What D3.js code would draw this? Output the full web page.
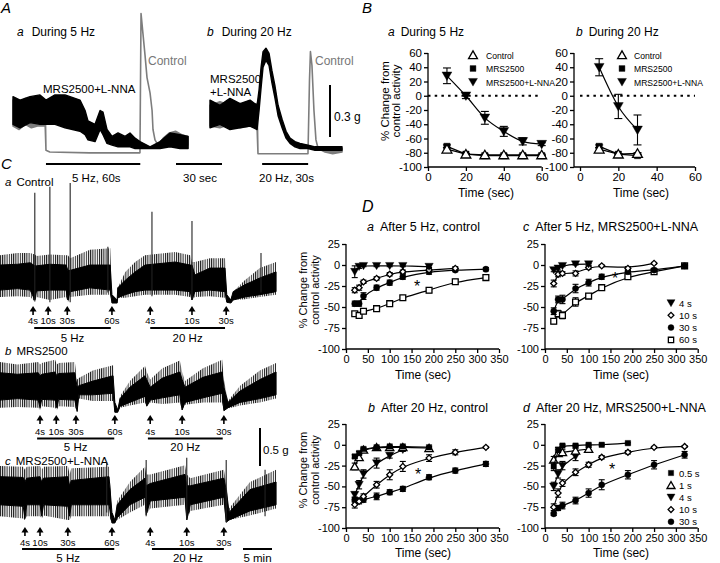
<!doctype html>
<html lang="en">
<head>
<meta charset="utf-8">
<title>P2Y1 / NO recordings</title>
<script src="https://cdn.jsdelivr.net/npm/d3@7"></script>
<style>
  body { margin: 0; background: #fff; }
  text { font-family: "Liberation Sans", Arial, sans-serif; }
</style>
</head>
<body>
<script>
// ---------- A: traces during stimulation, [time s, tension lo g, tension hi g] ----------
var aCtl5 = [[0,0.15,0.30],[4,0.13,0.28],[8,0.16,0.31],[12,0.14,0.28],[16,0.15,0.30],[21,0.15,0.29],[21.5,0.01,0.01],[24,0,0],[50,-0.005,-0.005],[82.8,-0.005,-0.005],
  [83.5,0.8,0.8],[84.8,0.68,0.68],[86.1,0.56,0.56],[87.4,0.43,0.43],[89.4,0.34,0.34],[90.7,0.24,0.24],[91.3,0.13,0.13],[92.6,0.07,0.07],[94.6,0.04,0.04],
  [98,0.03,0.08],[102,0.05,0.11],[106,0.04,0.12],[110,0.03,0.10],[114,0.04,0.09]];
var aNna5 = [[0,0.16,0.32],[4.6,0.14,0.30],[11.1,0.17,0.32],[17.6,0.16,0.33],[21.5,0.16,0.30],[27.4,0.16,0.33],[33.9,0.14,0.33],[43.7,0.12,0.30],[47,0.10,0.24],
  [48.9,0.07,0.18],[53.5,0.06,0.16],[56.8,0.13,0.24],[58.7,0.10,0.23],[61.3,0.05,0.13],[64.6,0.04,0.09],[68.5,0.03,0.11],[73.1,0.03,0.09],[76.3,0.03,0.11],
  [79.6,0.02,0.08],[82.8,0.02,0.06],[89.4,0.02,0.03],[95.9,0.02,0.06],[102.4,0.03,0.11],[108.9,0.02,0.10],[114.2,0.02,0.09]];
var aCtl20 = [[0,0.15,0.27],[6.5,0.14,0.29],[13,0.16,0.27],[19.6,0.14,0.28],[26.1,0.15,0.27],[30.7,0.14,0.28],[31.3,-0.01,-0.01],[63.9,-0.01,-0.01],
  [64.9,0.42,0.42],[65.5,0.58,0.58],[66.5,0.5,0.5],[67.8,0.24,0.24],[69.1,0.07,0.07],[70.5,0.02,0.02],[75,0,0.02],[80,-0.01,0.02],[86.1,0,0.02]];
var aNna20 = [[0,0.14,0.30],[6.5,0.16,0.27],[13,0.13,0.31],[19.6,0.14,0.28],[26.1,0.15,0.30],[30.7,0.13,0.27],[32.0,0.24,0.36],[33.3,0.37,0.49],[34.6,0.49,0.58],
  [36.5,0.53,0.60],[38.5,0.50,0.57],[40.4,0.40,0.47],[42.4,0.31,0.38],[44.4,0.21,0.27],[47,0.14,0.19],[49.6,0.08,0.12],[52.2,0.05,0.08],[55.4,0.03,0.06],
  [58.7,0.02,0.05],[63.9,0.02,0.04],[68.5,0.01,0.03],[75,0.01,0.03],[81.6,0.01,0.03],[86.1,0.01,0.03]];
var aStim5 = [21.5, 83], aStim20 = [34, 64];

// ---------- B: % change during stimulation, [mean, sem] ----------
var bTime5 = [10, 20, 30, 40, 50, 60];
var bCtl5 = [[-75,2],[-82,1],[-83,1],[-83,1],[-83,1],[-83,1]];
var bMrs5 = [[-71,2],[-82,1],[-84,1],[-84,1],[-84,1],[-84,1]];
var bNna5 = [[28,11],[0,4],[-31,9],[-50,7],[-64,5],[-68,2]];
var bTime20 = [10, 20, 30];
var bCtl20 = [[-75,2],[-82,1],[-81,1]];
var bMrs20 = [[-71,2],[-82,1],[-84,1]];
var bNna20 = [[40,12],[-15,17],[-48,21]];
var bLegend = ["Control", "MRS2500", "MRS2500+L-NNA"];

// ---------- C: long recordings, [time min, core lo, core hi, outer lo, outer hi] (g) ----------
var cTrA = [[0,0.13,0.46,0.04,0.59],[3,0.15,0.47,0.05,0.62],[5.2,0.13,0.49,0.04,0.62],[6.0,0.0,0.45,-0.02,0.6],[6.3,0.12,0.45,0.04,0.58],[8.6,0.13,0.47,0.0,0.6],
  [11.4,0.13,0.46,0.04,0.59],[11.7,0.0,0.39,-0.03,0.59],[12.1,0.11,0.39,0.04,0.55],[15.5,0.16,0.46,0.07,0.66],[19.0,0.13,0.46,0.07,0.68],[19.3,-0.04,0.07,-0.04,0.07],
  [20.2,-0.04,0.0,-0.04,0.0],[20.3,0.03,0.16,0.03,0.16],[21.6,0.07,0.26,0.03,0.37],[23.3,0.11,0.37,0.05,0.50],[25.0,0.13,0.46,0.07,0.59],[30.2,0.13,0.50,0.07,0.63],
  [32.8,0.11,0.46,0.04,0.59],[33.1,0.0,0.46,0.0,0.5],[33.6,0.11,0.33,0.04,0.50],[36.2,0.13,0.42,0.05,0.55],[38.8,0.11,0.42,0.03,0.55],[39.1,-0.03,0.07,-0.03,0.07],
  [39.8,-0.04,0.0,-0.04,0.0],[40.2,0.0,0.11,0.0,0.11],[42.2,0.04,0.20,0.01,0.26],[44.8,0.07,0.29,0.04,0.42],[47.6,0.11,0.37,0.07,0.50]];
var cSpkA = [[6.0,-0.02,1.41],[8.6,-0.03,1.49],[12.1,-0.03,1.54],[18.6,0.1,0.70],[26.2,0.05,1.16],[33.1,0.0,1.04],[45.0,0.1,0.62]];
var cTrB = [[0,0.13,0.49,0.03,0.63],[3,0.15,0.47,0.04,0.6],[6.6,0.13,0.49,0.03,0.63],[6.9,0.03,0.45,0.0,0.6],[7.2,0.14,0.47,0.05,0.62],[9.5,0.13,0.5,0.03,0.66],
  [9.8,0.03,0.45,0.0,0.6],[10.1,0.14,0.48,0.05,0.62],[12.9,0.13,0.49,0.04,0.63],[13.3,-0.02,0.3,-0.02,0.4],[13.6,0.2,0.32,0.15,0.42],[16,0.2,0.38,0.12,0.52],
  [19.5,0.22,0.45,0.12,0.59],[19.8,-0.03,0.1,-0.03,0.1],[20.3,-0.03,0.0,-0.03,0.0],[20.7,0.05,0.15,0.03,0.18],[22.4,0.1,0.3,0.06,0.38],[25,0.18,0.45,0.1,0.58],
  [25.3,0.05,0.4,0.05,0.5],[25.9,0.13,0.3,0.1,0.4],[28,0.16,0.42,0.08,0.55],[31,0.2,0.5,0.1,0.65],[31.4,0.0,0.4,0.0,0.5],[31.9,0.1,0.3,0.07,0.38],
  [35,0.16,0.43,0.1,0.55],[38.3,0.22,0.5,0.1,0.66],[38.6,-0.01,0.3,-0.01,0.4],[39.3,0.03,0.1,0.02,0.12],[41.4,0.1,0.25,0.06,0.32],[44.8,0.15,0.4,0.1,0.52],
  [47.6,0.2,0.5,0.15,0.62]];
var cSpkB = [];
var cTrC = [[0,0.2,0.57,0.05,0.71],[4,0.18,0.56,0.02,0.7],[4.3,0.02,0.5,0.0,0.66],[4.6,0.2,0.55,0.05,0.7],[6.9,0.2,0.57,0.05,0.71],[7.2,0.05,0.5,0.02,0.66],
  [7.5,0.2,0.55,0.06,0.7],[11.7,0.18,0.57,0.0,0.71],[12,0.05,0.45,0.0,0.6],[12.3,0.2,0.52,0.05,0.68],[18.8,0.2,0.57,0.05,0.7],[19.3,-0.04,0.1,-0.04,0.1],
  [19.8,-0.04,0.0,-0.04,0.0],[20.2,0.03,0.2,0.0,0.25],[22.4,0.2,0.4,0.1,0.5],[25,0.3,0.55,0.2,0.7],[25.2,0.07,0.45,0.07,0.6],[25.9,0.25,0.48,0.15,0.6],
  [31.9,0.3,0.6,0.2,0.72],[32.2,0.0,0.45,0.0,0.6],[32.8,0.2,0.45,0.12,0.55],[38.6,0.3,0.55,0.2,0.66],[39,-0.03,0.4,-0.03,0.5],[39.5,0.0,0.1,0.0,0.15],
  [43.1,0.12,0.4,0.06,0.5],[47.6,0.2,0.5,0.15,0.66]];
var cSpkC = [[18.4,0.1,0.76],[25.2,0.05,0.79],[32.2,0.0,0.82],[39.0,-0.03,0.79],[45.7,0.05,0.66]];
var cStimLab = ["4s", "10s", "30s", "60s", "4s", "10s", "30s"];
var cStimA = [5.7, 8.3, 11.6, 19.3, 25.9, 33.1, 39.0];
var cStimB = [6.9, 9.7, 13.1, 19.8, 25.9, 31.4, 38.6];
var cStimC = [4.3, 6.9, 11.7, 19.3, 25.9, 32.2, 38.6];
var cBarsA = [[5.9, 19.1], [25.9, 38.8]];
var cBarsB = [[6.4, 19.7], [25.5, 38.4]];
var cBarsC = [[3.8, 19.7], [26.2, 38.6]];
var cBarLab = ["5 Hz", "20 Hz"];

// ---------- D: recovery after stimulation, [mean, sem] ----------
var dTime = [20, 30, 40, 70, 100, 130, 190, 250, 320];
var da4  = [[-8,7],[-2,2],[-1,1],[-1,1],[-1,1],[-1,1],[-2,1]];
var da10 = [[-30,3],[-27,3],[-20,2],[-16,2],[-11,2],[-8,2],[-6,2],[-4,2]];
var da30 = [[-46,3],[-46,3],[-37,4],[-27,3],[-21,3],[-14,3],[-8,3],[-6,2],[-5,2]];
var da60 = [[-58,2],[-60,3],[-55,2],[-52,2],[-46,2],[-39,2],[-30,3],[-20,3],[-15,3]];
var dc4  = [[-6,2],[-4,2],[-1,1],[1,1],[1,1]];
var dc10 = [[-22,4],[-11,3],[-10,2],[-10,3],[-3,2],[-1,1],[-4,2],[2,1]];
var dc30 = [[-55,4],[-41,4],[-41,5],[-28,5],[-21,4],[-14,3],[-8,2],[-6,2],[-1,1]];
var dc60 = [[-67,3],[-58,4],[-60,4],[-44,5],[-37,3],[-27,3],[-14,3],[-8,2],[-1,1]];
var db05 = [[-14,2],[-10,2],[-5,1],[-3,1],[-2,1],[-2,1],[-3,1]];
var db1  = [[-26,4],[-15,3],[-6,2],[-3,1],[-3,1],[-3,1],[-4,1]];
var db4  = [[-60,3],[-48,5],[-35,5],[-22,6],[-13,3],[-6,2]];
var db10 = [[-72,4],[-68,3],[-62,3],[-48,4],[-36,6],[-26,6],[-16,4],[-9,3],[-3,1]];
var db30 = [[-66,3],[-67,3],[-66,3],[-62,4],[-57,3],[-53,3],[-39,3],[-31,3],[-23,3]];
var dd05 = [[-26,5],[-6,3],[-1,1],[-1,1],[0,1],[0,1],[2,1]];
var dd1  = [[-18,4],[-10,4],[-9,3],[-7,3],[-5,2]];
var dd4  = [[-50,5],[-35,5],[-25,5],[-14,5]];
var dd10 = [[-75,4],[-58,5],[-46,4],[-33,4],[-24,3],[-15,2],[-9,2],[-3,1],[-2,1]];
var dd30 = [[-83,2],[-76,3],[-73,4],[-67,4],[-58,5],[-48,6],[-36,5],[-24,5],[-12,4]];
var dLegC = ["4 s", "10 s", "30 s", "60 s"];
var dLegD = ["0.5 s", "1 s", "4 s", "10 s", "30 s"];

var svg = d3.select("body").append("svg").attr("width", 720).attr("height", 563);

// fine vertical hatching, stands in for the dense noisy excursions of the raw traces
var defs = svg.append("defs");
defs.append("pattern").attr("id", "hatch").attr("width", 2.2).attr("height", 4)
    .attr("patternUnits", "userSpaceOnUse")
    .append("rect").attr("width", 1).attr("height", 4).attr("fill", "#111");

function txt(x, y, s, size, anchor, fill, style) {
    return svg.append("text").attr("x", x).attr("y", y).attr("font-size", size)
        .attr("text-anchor", anchor || "start").attr("fill", fill || "#000")
        .attr("font-style", style || "normal").text(s);
}
function title(x, y, letter, s, size, gap) {
    var t = svg.append("text").attr("x", x).attr("y", y).attr("font-size", size);
    t.append("tspan").attr("font-style", "italic").text(letter);
    t.append("tspan").attr("dx", gap).text(s);
    return t;
}
function hline(x1, x2, y, w) {
    svg.append("line").attr("x1", x1).attr("x2", x2).attr("y1", y).attr("y2", y)
        .attr("stroke", "#000").attr("stroke-width", w || 2);
}
function vline(x, y1, y2, w, col) {
    svg.append("line").attr("x1", x).attr("x2", x).attr("y1", y1).attr("y2", y2)
        .attr("stroke", col || "#000").attr("stroke-width", w || 2);
}
function band(data, x, y, color, lo, hi, sw) {
    svg.append("path").datum(data)
        .attr("d", d3.area().x(function(d){return x(d[0]);}).y0(function(d){return y(d[lo]);}).y1(function(d){return y(d[hi]);}))
        .attr("fill", color).attr("stroke", sw === 0 ? "none" : color).attr("stroke-width", sw || 1.4).attr("stroke-linejoin", "round");
}

// ===================== A =====================
txt(1, 13, "A", 15, "start", "#000", "italic");
title(17, 36, "a", "During 5 Hz", 12, 8);
title(207, 36, "b", "During 20 Hz", 12, 8);

var pxPerSec = 46 / 30;
var xA5 = d3.scaleLinear().domain([0, 100]).range([13, 13 + 100 * pxPerSec]);
var xA20 = d3.scaleLinear().domain([0, 100]).range([210, 210 + 100 * pxPerSec]);
var yA = d3.scaleLinear().domain([0, 0.3]).range([152, 152 - 0.3 * 173]);

band(aCtl5, xA5, yA, "#7d7d7d", 1, 2, 1.6);
band(aNna5, xA5, yA, "#000", 1, 2);
band(aCtl20, xA20, yA, "#7d7d7d", 1, 2, 1.6);
band(aNna20, xA20, yA, "#000", 1, 2);

txt(148, 65, "Control", 12, "start", "#777");
txt(315, 65, "Control", 12, "start", "#777");
txt(43, 93, "MRS2500+L-NNA", 11.5);
txt(210, 83, "MRS2500", 11.5);
txt(210, 96, "+L-NNA", 11.5);

vline(330, 85, 85 + 0.3 * 173, 2);
txt(334, 121, "0.3 g", 12);

hline(xA5(aStim5[0]), xA5(aStim5[1]), 164);
hline(176, 176 + (xA5(30) - xA5(0)), 164);
hline(xA20(aStim20[0]), xA20(aStim20[1]), 164);
txt(72, 182, "5 Hz, 60s", 11.5);
txt(183, 182, "30 sec", 11.5);
txt(259, 182, "20 Hz, 30s", 11.5);

// ===================== symbols, frames, series =====================
var symType = {tdn: d3.symbolTriangle, tri: d3.symbolTriangle, sq: d3.symbolSquare, osq: d3.symbolSquare, dia: d3.symbolSquare, cir: d3.symbolCircle};
function drawSym(kind, x, y, size) {
    var open = (kind === "tri" || kind === "osq" || kind === "dia");
    var rot = kind === "tdn" ? 180 : (kind === "dia" ? 45 : 0);
    var s = kind === "dia" ? size * 0.6 : size;
    var dy = kind === "tdn" ? -1 : (kind === "tri" ? 1 : 0);
    svg.append("path").attr("d", d3.symbol().type(symType[kind]).size(s)())
        .attr("transform", "translate(" + x + "," + (y + dy) + ") rotate(" + rot + ")")
        .attr("fill", open ? "#fff" : "#000").attr("stroke", "#000").attr("stroke-width", open ? 1.3 : 0.4);
}
function frame(x, y, axisX, xt, yt, fs) {
    var y0 = y.range()[0];
    var ax = svg.append("g").attr("transform", "translate(0," + y0 + ")")
        .call(d3.axisBottom(x).tickValues(xt).tickSize(4).tickPadding(2).tickFormat(function(d){return String(d);}));
    var ay = svg.append("g").attr("transform", "translate(" + axisX + ",0)")
        .call(d3.axisLeft(y).tickValues(yt).tickSize(4).tickPadding(2).tickFormat(function(d){return String(d);}));
    [ax, ay].forEach(function(g) {
        g.attr("font-family", "Liberation Sans, Arial, sans-serif").attr("font-size", fs);
        g.select(".domain").remove();
        g.selectAll("line").attr("stroke", "#000").attr("stroke-width", 1.3);
        g.selectAll("text").attr("fill", "#000");
    });
    svg.append("line").attr("x1", axisX).attr("x2", x.range()[1]).attr("y1", y0).attr("y2", y0).attr("stroke", "#000").attr("stroke-width", 1.3);
    svg.append("line").attr("x1", axisX).attr("x2", axisX).attr("y1", y0).attr("y2", y.range()[1]).attr("stroke", "#000").attr("stroke-width", 1.3);
}
function series(x, y, times, vals, kind, size, curve, cap) {
    var pts = vals.map(function(v, i){return [times[i], v[0], v[1]];});
    svg.append("path").datum(pts)
        .attr("d", d3.line().x(function(d){return x(d[0]);}).y(function(d){return y(d[1]);}).curve(curve))
        .attr("fill", "none").attr("stroke", "#000").attr("stroke-width", 1.2);
    pts.forEach(function(d) {
        var xx = x(d[0]);
        vline(xx, y(d[1] - d[2]), y(d[1] + d[2]), 1.1);
        hline(xx - cap, xx + cap, y(d[1] + d[2]), 1.1);
        hline(xx - cap, xx + cap, y(d[1] - d[2]), 1.1);
    });
    pts.forEach(function(d){ drawSym(kind, x(d[0]), y(d[1]), size); });
}
function ylab(cx, cy, size, gap) {
    txt(0, 0, "% Change from", size, "middle").attr("transform", "translate(" + cx + "," + cy + ") rotate(-90)");
    txt(0, 0, "control activity", size, "middle").attr("transform", "translate(" + (cx + gap) + "," + cy + ") rotate(-90)");
}

// ===================== B =====================
txt(362, 13, "B", 15, "start", "#000", "italic");
title(388, 36, "a", "During 5 Hz", 12, 6);
title(576, 36, "b", "During 20 Hz", 12, 6);
ylab(389, 101, 11.5, 11);

var yB = d3.scaleLinear().domain([-100, 60]).range([167, 53]);
var xB5 = d3.scaleLinear().domain([0, 60]).range([428, 541.7]);
var xB20 = d3.scaleLinear().domain([0, 60]).range([580, 695]);
var bYT = d3.range(-100, 61, 20);
frame(xB5, yB, 428, [0, 20, 40, 60], bYT, 11.5);
frame(xB20, yB, 574, [0, 20, 40, 60], bYT, 11.5);
[xB5, xB20].forEach(function(x) {
    svg.append("line").attr("x1", x(0)).attr("x2", x(60)).attr("y1", yB(0)).attr("y2", yB(0))
        .attr("stroke", "#000").attr("stroke-width", 2).attr("stroke-dasharray", "2.5,4.2");
});
series(xB5, yB, bTime5, bMrs5, "sq", 40, d3.curveLinear, 4);
series(xB5, yB, bTime5, bCtl5, "tri", 42, d3.curveLinear, 4);
series(xB5, yB, bTime5, bNna5, "tdn", 42, d3.curveMonotoneX, 4);
series(xB20, yB, bTime20, bMrs20, "sq", 40, d3.curveLinear, 4);
series(xB20, yB, bTime20, bCtl20, "tri", 42, d3.curveLinear, 4);
series(xB20, yB, bTime20, bNna20, "tdn", 42, d3.curveMonotoneX, 4);
txt(486, 197, "Time (sec)", 12, "middle");
txt(641, 197, "Time (sec)", 12, "middle");

[[473, 486], [622, 634]].forEach(function(p) {
    ["tri", "sq", "tdn"].forEach(function(k, i) {
        var yy = 55 + i * 13.5;
        drawSym(k, p[0], yy, 34);
        txt(p[1], yy + 3.5, bLegend[i], 8.6);
    });
});

// ===================== C =====================
txt(1, 169, "C", 15, "start", "#000", "italic");
var xC = d3.scaleLinear().domain([0, 50]).range([0, 290]);
var cRows = [
    {tr: cTrA, spk: cSpkA, stim: cStimA, bars: cBarsA, base: 300, arrow: 306, lab: 324, bar: 328, barLab: 342, letter: "a", name: "Control", ty: 186},
    {tr: cTrB, spk: cSpkB, stim: cStimB, bars: cBarsB, base: 410, arrow: 415, lab: 434.5, bar: 438.5, barLab: 451, letter: "b", name: "MRS2500", ty: 355},
    {tr: cTrC, spk: cSpkC, stim: cStimC, bars: cBarsC, base: 520, arrow: 527, lab: 546, bar: 549, barLab: 562, letter: "c", name: "MRS2500+L-NNA", ty: 465}
];
cRows.forEach(function(r) {
    var y = d3.scaleLinear().domain([0, 1]).range([r.base, r.base - 76]);
    title(5, r.ty, r.letter, r.name, 11.5, 5);
    band(r.tr, xC, y, "url(#hatch)", 3, 4, 0);
    band(r.tr, xC, y, "#000", 1, 2, 1);
    r.spk.forEach(function(s){ vline(xC(s[0]), y(s[1]), y(s[2]), 1.1, "#222"); });
    r.stim.forEach(function(t, i) {
        var x = xC(t);
        svg.append("path").attr("d", "M" + (x - 3.5) + "," + (r.arrow + 5.5) + "L" + x + "," + r.arrow + "L" + (x + 3.5) + "," + (r.arrow + 5.5) + "Z").attr("fill", "#000");
        vline(x, r.arrow + 4, r.arrow + 9, 1.6);
        txt(x, r.lab, cStimLab[i], 9.5, "middle");
    });
    r.bars.forEach(function(b, i) {
        hline(xC(b[0]), xC(b[1]), r.bar, 2);
        txt((xC(b[0]) + xC(b[1])) / 2, r.barLab, cBarLab[i], 11.5, "middle");
    });
});
vline(260, 428, 428 + 0.5 * 76, 2);
txt(263, 454, "0.5 g", 11.5);
hline(xC(41.9), xC(46.9), 549, 2);
txt((xC(41.9) + xC(46.9)) / 2, 562, "5 min", 11.5, "middle");

// ===================== D =====================
txt(362, 212, "D", 16, "start", "#000", "italic");
var dYT = [-100, -75, -50, -25, 0, 25];
var dXT = d3.range(0, 351, 50);
var xDL = d3.scaleLinear().domain([0, 350]).range([346, 499]);
var xDR = d3.scaleLinear().domain([0, 350]).range([545, 697.7]);
var yDT = d3.scaleLinear().domain([-100, 25]).range([349, 244]);
var yDB = d3.scaleLinear().domain([-100, 25]).range([528, 424]);

title(367, 231, "a", "After 5 Hz, control", 12.5, 6);
title(523, 231, "c", "After 5 Hz, MRS2500+L-NNA", 12.5, 6);
title(368, 412, "b", "After 20 Hz, control", 12.5, 6);
title(523, 412, "d", "After 20 Hz, MRS2500+L-NNA", 12.5, 6);
ylab(307, 290, 11, 12);
ylab(307, 470, 11, 12);

frame(xDL, yDT, 346, dXT, dYT, 11);
frame(xDR, yDT, 545, dXT, dYT, 11);
frame(xDL, yDB, 346, dXT, dYT, 11);
frame(xDR, yDB, 545, dXT, dYT, 11);
txt(423, 379, "Time (sec)", 12, "middle");
txt(621, 379, "Time (sec)", 12, "middle");
txt(423, 557, "Time (sec)", 12, "middle");
txt(621, 557, "Time (sec)", 12, "middle");

var sz = 30;
series(xDL, yDT, dTime, da60, "osq", 34, d3.curveBasis, 3);
series(xDL, yDT, dTime, da30, "cir", sz, d3.curveBasis, 3);
series(xDL, yDT, dTime, da10, "dia", sz, d3.curveBasis, 3);
series(xDL, yDT, dTime, da4, "tdn", sz, d3.curveBasis, 3);

series(xDR, yDT, dTime, dc60, "osq", 34, d3.curveBasis, 3);
series(xDR, yDT, dTime, dc30, "cir", sz, d3.curveBasis, 3);
series(xDR, yDT, dTime, dc10, "dia", sz, d3.curveBasis, 3);
series(xDR, yDT, dTime, dc4, "tdn", sz, d3.curveBasis, 3);

series(xDL, yDB, dTime, db30, "cir", sz, d3.curveBasis, 3);
series(xDL, yDB, dTime, db10, "dia", sz, d3.curveBasis, 3);
series(xDL, yDB, dTime, db4, "tdn", sz, d3.curveBasis, 3);
series(xDL, yDB, dTime, db1, "tri", sz, d3.curveBasis, 3);
series(xDL, yDB, dTime, db05, "sq", sz, d3.curveBasis, 3);

series(xDR, yDB, dTime, dd30, "cir", sz, d3.curveBasis, 3);
series(xDR, yDB, dTime, dd10, "dia", sz, d3.curveBasis, 3);
series(xDR, yDB, dTime, dd4, "tdn", sz, d3.curveBasis, 3);
series(xDR, yDB, dTime, dd1, "tri", sz, d3.curveBasis, 3);
series(xDR, yDB, dTime, dd05, "sq", sz, d3.curveBasis, 3);

txt(417, 292, "*", 16, "middle");
txt(615, 284, "*", 16, "middle");
txt(418, 480, "*", 16, "middle");
txt(612, 475, "*", 16, "middle");

["tdn", "dia", "cir", "osq"].forEach(function(k, i) {
    drawSym(k, 671, 303 + i * 12.3, 28);
    txt(679, 306.5 + i * 12.3, dLegC[i], 9.5);
});
["sq", "tri", "tdn", "dia", "cir"].forEach(function(k, i) {
    drawSym(k, 671, 473 + i * 12.2, 28);
    txt(679, 476.5 + i * 12.2, dLegD[i], 9.5);
});
</script>
</body>
</html>
